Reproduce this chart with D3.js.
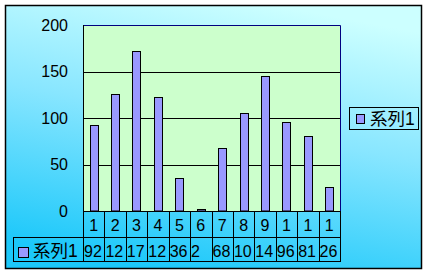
<!DOCTYPE html>
<html>
<head>
<meta charset="utf-8">
<script src="https://cdn.jsdelivr.net/npm/d3@7"></script>
<style>
  body { margin: 0; background: #fff; }
  text { font-family: "Liberation Sans", "Noto Sans CJK JP", sans-serif; font-size: 16px; fill: #000; }
  text.series { font-size: 17.5px; }
</style>
</head>
<body>
<div id="chart"></div>
<script>
// data
var categories = ["1","2","3","4","5","6","7","8","9","10","11","12"];
var values = [92, 126, 172, 123, 36, 2, 68, 105, 145, 96, 81, 26];
var seriesName = "系列1";
var yTicks = [0, 50, 100, 150, 200];

var w = 427, h = 275;
var plotLeft = 83, plotRight = 340, plotTop = 25, zeroY = 211;
var row1 = 237, row2 = 261, tableLeft = 13;

var svg = d3.select("#chart").append("svg")
  .attr("width", w).attr("height", h);

var defs = svg.append("defs");
var grad = defs.append("linearGradient").attr("id", "bg")
  .attr("x1", 0.65).attr("y1", 0).attr("x2", 0.35).attr("y2", 1);
grad.append("stop").attr("offset", 0).attr("stop-color", "#ccffff");
grad.append("stop").attr("offset", 0.45).attr("stop-color", "#88e6ff");
grad.append("stop").attr("offset", 1).attr("stop-color", "#1cc8fa");

// chart background
svg.append("rect")
  .attr("x", 5.5).attr("y", 5.5).attr("width", 416).attr("height", 263)
  .attr("fill", "url(#bg)").attr("stroke", "#000").attr("stroke-width", 1.5);

var x = d3.scaleBand().domain(categories).range([plotLeft, plotRight]).padding(0);
var y = d3.scaleLinear().domain([0, 200]).range([zeroY, plotTop]);

// plot area
svg.append("rect")
  .attr("x", plotLeft).attr("y", plotTop).attr("width", plotRight - plotLeft).attr("height", zeroY - plotTop)
  .attr("fill", "#ccffcc");

// gridlines
svg.append("g").selectAll("line").data(yTicks.slice(1, -1)).enter().append("line")
  .attr("x1", plotLeft).attr("x2", plotRight)
  .attr("y1", function(d) { return Math.round(y(d)) + 0.5; })
  .attr("y2", function(d) { return Math.round(y(d)) + 0.5; })
  .attr("stroke", "#000");

// plot border (top/right dark blue)
svg.append("path")
  .attr("d", "M" + plotLeft + "," + (plotTop + 0.5) + "H" + (plotRight + 0.5) + "V" + zeroY)
  .attr("fill", "none").attr("stroke", "#000080");
svg.append("line")
  .attr("x1", plotLeft + 0.5).attr("x2", plotLeft + 0.5).attr("y1", plotTop).attr("y2", zeroY)
  .attr("stroke", "#000");

// y axis labels
svg.append("g").selectAll("text").data(yTicks).enter().append("text")
  .attr("x", 68).attr("y", function(d) { return y(d); })
  .attr("dy", "0.36em").attr("text-anchor", "end")
  .text(function(d) { return d; });

// bars
var bw = x.bandwidth() * 0.38;
svg.append("g").selectAll("rect").data(values).enter().append("rect")
  .attr("x", function(d, i) { return Math.round(x(categories[i]) + (x.bandwidth() - bw) / 2) + 0.5; })
  .attr("y", function(d) { return Math.round(y(d)) + 0.5; })
  .attr("width", Math.round(bw))
  .attr("height", function(d) { return zeroY - Math.round(y(d)) - 0.5; })
  .attr("fill", "#9999ff").attr("stroke", "#000");

// data table lines
var tg = svg.append("g").attr("stroke", "#000");
tg.append("line").attr("x1", plotLeft).attr("x2", plotRight + 0.5).attr("y1", zeroY + 0.5).attr("y2", zeroY + 0.5);
tg.append("line").attr("x1", tableLeft).attr("x2", plotRight + 0.5).attr("y1", row1 + 0.5).attr("y2", row1 + 0.5);
tg.append("line").attr("x1", tableLeft).attr("x2", plotRight + 0.5).attr("y1", row2 + 0.5).attr("y2", row2 + 0.5);
tg.append("line").attr("x1", tableLeft + 0.5).attr("x2", tableLeft + 0.5).attr("y1", row1).attr("y2", row2 + 1);
var cuts = categories.map(function(c) { return x(c); }).concat([plotRight]);
tg.selectAll(".v").data(cuts).enter().append("line")
  .attr("x1", function(d) { return Math.round(d) + 0.5; })
  .attr("x2", function(d) { return Math.round(d) + 0.5; })
  .attr("y1", zeroY).attr("y2", row2 + 1);

// shrink text until it fits the cell, like the data table does
function fit(sel, maxW) {
  sel.each(function() {
    var t = d3.select(this), s = t.text();
    while (s.length > 1 && this.getComputedTextLength() > maxW) {
      s = s.slice(0, -1);
      t.text(s);
    }
  });
}

svg.append("g").selectAll("text").data(categories).enter().append("text")
  .attr("x", function(d) { return x(d) + x.bandwidth() / 2; })
  .attr("y", (zeroY + row1) / 2 + 1).attr("dy", "0.36em")
  .attr("text-anchor", "middle")
  .text(function(d) { return d; })
  .call(fit, 16);

svg.append("g").selectAll("text").data(values).enter().append("text")
  .attr("x", function(d, i) { return x(categories[i]) + 1; })
  .attr("y", (row1 + row2) / 2 + 2).attr("dy", "0.36em")
  .text(function(d) { return d; })
  .call(fit, 20);

// series key inside table
svg.append("rect").attr("x", 18.5).attr("y", 247.5).attr("width", 10).attr("height", 10)
  .attr("fill", "#9999ff").attr("stroke", "#000");
svg.append("text").attr("class", "series").attr("x", 33).attr("y", (row1 + row2) / 2 + 2).attr("dy", "0.36em")
  .text(seriesName);

// legend
svg.append("rect").attr("x", 349.5).attr("y", 107.5).attr("width", 69).attr("height", 22)
  .attr("fill", "none").attr("stroke", "#000");
svg.append("rect").attr("x", 356.5).attr("y", 114.5).attr("width", 8).attr("height", 9)
  .attr("fill", "#9999ff").attr("stroke", "#000");
svg.append("text").attr("class", "series").attr("x", 370).attr("y", 119).attr("dy", "0.36em")
  .text(seriesName);
</script>
</body>
</html>
